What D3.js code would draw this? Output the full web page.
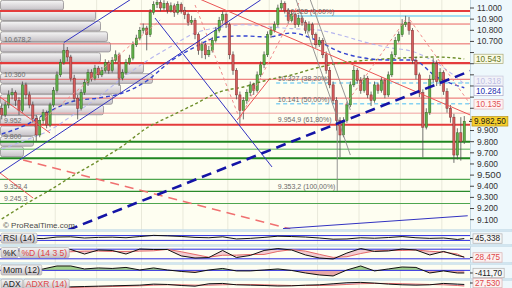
<!DOCTYPE html>
<html>
<head>
<meta charset="utf-8">
<script src="https://cdn.jsdelivr.net/npm/d3@7/dist/d3.min.js"></script>
<style>
  html, body { margin: 0; padding: 0; background: #ffffff; }
  svg { display: block; font-family: "Liberation Sans", Arial, sans-serif; }
</style>
</head>
<body>
<div class="chart"></div>
<script>
// DATA (prices in index points, [open, high, low, close])
const candles = [
  [10100,10140,10000,10040], [10040,10160,10020,10130], [10130,10260,10100,10220], [10220,10280,10180,10240], [10240,10260,10120,10170],
  [10170,10200,10040,10080], [10080,10340,10060,10310], [10310,10330,10180,10220], [10220,10250,10100,10130], [10130,10160,9970,10010],
  [10010,10040,9800,9860], [9860,10020,9840,9990], [9990,10090,9960,10060], [10060,10080,9920,9950], [9950,10150,9930,10130],
  [10130,10290,10110,10260], [10260,10430,10240,10400], [10400,10540,10380,10510], [10510,10680,10490,10620], [10620,10650,10520,10560],
  [10560,10580,10340,10370], [10370,10400,10160,10190], [10190,10220,10000,10100], [10100,10270,10080,10240], [10240,10360,10220,10330],
  [10330,10450,10300,10420], [10420,10450,10340,10370], [10370,10490,10350,10460], [10460,10480,10370,10400], [10400,10470,10380,10440],
  [10440,10540,10420,10510], [10510,10530,10410,10440], [10440,10560,10420,10530], [10530,10620,10510,10580], [10580,10600,10300,10370],
  [10370,10450,10350,10420], [10420,10540,10400,10510], [10510,10580,10490,10550], [10550,10700,10530,10670], [10670,10760,10650,10730],
  [10730,10830,10710,10800], [10800,10860,10770,10820], [10820,10840,10620,10760], [10760,10990,10740,10960], [10960,11060,10940,11030],
  [11030,11080,11000,11050], [11050,11070,10970,11000], [11000,11070,10980,11040], [11040,11060,10950,10980], [10980,11050,10960,11020],
  [11020,11040,10920,10960], [10960,11060,10940,11030], [11030,11050,10950,10980], [10980,11010,10900,10940], [10940,10960,10840,10870],
  [10870,10930,10850,10890], [10890,10910,10720,10760], [10760,10780,10580,10620], [10620,10700,10550,10670], [10670,10690,10540,10580],
  [10580,10660,10560,10620], [10620,10740,10600,10710], [10710,10830,10690,10800], [10800,10920,10780,10890], [10890,10970,10860,10940],
  [10940,10960,10820,10850], [10850,10870,10540,10580], [10580,10610,10400,10440], [10440,10460,10180,10220], [10220,10250,9960,10080],
  [10080,10200,10000,10170], [10170,10270,10140,10240], [10240,10340,10210,10310], [10310,10330,10220,10260], [10260,10430,10240,10400],
  [10400,10520,10380,10490], [10490,10610,10460,10580], [10580,10790,10560,10760], [10760,10830,10730,10800], [10800,10880,10780,10850],
  [10850,11030,10830,11000], [11000,11070,10980,11040], [11040,11060,10950,10980], [10980,11000,10860,10890], [10890,10970,10870,10940],
  [10940,10960,10820,10850], [10850,10940,10830,10910], [10910,10930,10840,10870], [10870,10890,10770,10800], [10800,10880,10780,10850],
  [10850,10870,10730,10760], [10760,10780,10640,10670], [10670,10740,10650,10710], [10710,10730,10550,10580], [10580,10610,10410,10440],
  [10440,10470,10280,10310], [10310,10340,10140,10170], [10170,10200,9900,9990], [9990,10020,9660,9860], [9860,10020,9840,9990],
  [9990,10160,9970,10130], [10130,10340,10110,10310], [10310,10480,10290,10440], [10440,10460,10320,10350], [10350,10380,10230,10260],
  [10260,10400,10240,10370], [10370,10390,10190,10220], [10220,10250,10120,10170], [10170,10340,10150,10310], [10310,10330,10230,10260],
  [10260,10380,10240,10350], [10350,10370,10190,10220], [10220,10430,10200,10400], [10400,10610,10380,10580], [10580,10740,10560,10710],
  [10710,10790,10690,10760], [10760,10900,10740,10850], [10850,10930,10830,10870], [10870,10920,10760,10800], [10800,10820,10500,10530],
  [10530,10560,10360,10400], [10400,10420,10200,10240], [10240,10270,9660,9930], [9930,10100,9910,10060], [10060,10400,10040,10360],
  [10360,10550,10330,10500], [10500,10530,10300,10340], [10340,10460,10300,10420], [10420,10440,10220,10250], [10250,10280,10060,10100],
  [10100,10130,9970,10020], [10020,10050,9610,9680], [9680,9920,9640,9880], [9880,10020,9630,9800], [9800,10030,9780,9982.5]
];

const priceTicks = d3.range(9100, 11001, 100);
const gridIndex = [16, 28, 41, 53, 66, 78, 92, 104, 116, 128];

// volume by price (bin low, volume)
const profileLow = [10978, 10884, 10790, 10696, 10602, 10508, 10414, 10320, 10226, 10132, 10038, 9944, 9850, 9756, 9662];
const profileVolume = [630, 950, 1000, 1070, 1100, 1000, 1430, 1520, 1200, 1120, 1030, 370, 350, 330, 230];
const profileStep = 94;

// horizontal levels
const levels = [10973, 10856, 10678.2, 10505, 10360, 10191, 10056, 9952, 9800, 9732, 9651, 9462, 9353.4, 9245.3];
const levelKind = ["redThick", "red", "red", "redThick", "red", "red", "redLight", "redThick",
                   "greenThick", "greenLight", "greenThick", "green", "greenDark", "green"];
const levelFrom = [-0.5, 40, -0.5, -0.5, -0.5, -0.5, -0.5, -0.5, -0.5, -0.5, -0.5, -0.5, -0.5, -0.5];
const labeledLevels = [10678.2, 10360, 9952, 9800, 9353.4, 9245.3];

// fibonacci retracement
const fibHigh = 10928.3, fibLow = 9353.2;
const fibRatios = [0, 0.382, 0.5, 0.618, 1];
const fibPct = ["0,00%", "38,20%", "50,00%", "61,80%", "100,00%"];

// moving averages
const maIndex = [0, 7, 14, 21, 28, 35, 42, 49, 56, 63, 70, 77, 84, 91, 98, 105, 112, 119, 126, 134];
const maBlue = [9869, 9950, 10075, 10165, 10192, 10237, 10345, 10524, 10650, 10740, 10749, 10740, 10776, 10713, 10605, 10551, 10533, 10533, 10381, 10284];
const maOlive = [9106, 9241, 9366, 9501, 9627, 9761, 9923, 10031, 10138, 10246, 10291, 10354, 10399, 10461, 10506, 10529, 10544, 10556, 10560, 10543];
const maLavender = [9734, 9815, 9905, 10048, 10201, 10372, 10524, 10654, 10776, 10825, 10850, 10832, 10815, 10805, 10758, 10695, 10645, 10610, 10506, 10318];

// drawn trend lines [index1, price1, index2, price2]
const trendBlue = [[-0.5, 9519, 75, 11072], [18, 10690, 37.5, 11080], [44.4, 10910, 78.3, 9573], [81.5, 9020, 135, 9135]];
const trendBlueDash = [[19.2, 9007, 135.7, 10434]];
const trendRed = [[54.6, 11117, 135.7, 10040], [-0.5, 10201, 14, 9878], [-0.5, 9519, 9.1, 9294], [68.2, 9995, 77.8, 10372]];
const trendSalmon = [[6.2, 9636, 83.6, 9016]];
const trendGray = [[85.3, 11072, 101, 9680], [89.4, 11072, 101, 10084], [97.2, 10174, 97.2, 9357]];
const trendPink = [[12.5, 10013, 45.9, 10892], [56, 11027, 68.5, 10040], [69.1, 10013, 86.5, 11072], [99.5, 10129, 116.9, 10892], [118.3, 10892, 135.7, 10138]];

// indicators
const subIndex = [0, 4, 8, 12, 16, 20, 24, 28, 32, 36, 40, 44, 48, 52, 56, 60, 64, 68, 72, 76, 80, 84, 88, 92, 96, 100, 104, 108, 112, 116, 120, 124, 128, 132, 134];
const rsi = [50, 55, 48, 45, 58, 60, 50, 55, 57, 52, 62, 72, 68, 63, 55, 52, 60, 42, 47, 55, 65, 62, 58, 50, 40, 42, 52, 48, 54, 62, 52, 47, 50, 38, 45.338];
const stochK = [62, 75, 56, 38, 75, 78, 50, 75, 72, 50, 81, 78, 78, 38, 25, 28, 72, 28, 41, 72, 84, 75, 44, 25, 19, 56, 84, 66, 69, 81, 75, 44, 66, 41, 31];
const stochD = [60, 68, 64, 56, 56, 64, 68, 68, 66, 66, 68, 70, 79, 64, 47, 30, 42, 43, 47, 47, 66, 77, 68, 48, 29, 33, 53, 69, 73, 72, 75, 67, 62, 50, 28.475];
const mom = [60, -90, -250, 220, 690, 690, 220, 380, 300, 460, 60, 380, 60, -170, -330, 60, 300, -90, -90, 60, 220, -15, -410, -720, -880, 60, 690, -90, 220, 530, 460, -410, -90, -410, -411.7];
const adx = [22, 21, 20, 21, 24, 25, 26, 27, 28, 29, 30, 33, 32, 29, 27, 34, 35, 31, 30, 29, 27.5, 28, 30, 31, 34, 37, 38, 36, 33, 31, 30, 31, 35, 33, 32];
const adxr = [23, 22, 21, 21, 22, 23, 24, 25, 26, 27, 28, 30, 31, 31, 30, 30, 31, 32, 32, 31, 30, 29, 29, 29, 30, 32, 34, 35, 35, 34, 33, 32, 31, 29, 27.53];

// last values shown on the price axis
const lastValues = [10543, 10318, 10284, 10135, 9982.5];


// Setup
const W = 512, H = 288, plotW = 470, mainH = 229.5;
const locale = d3.formatLocale({ decimal: ",", thousands: ".", grouping: [3], currency: ["", ""], minus: "-" });
const fInt = locale.format(",.0f");
const x = d3.scaleLinear().domain([-0.5, candles.length - 0.5]).range([0, 466]);
const y = d3.scaleLinear().domain([9000, 11000]).range([230.8, 8]);
const bodyW = (x(1) - x(0)) * 0.64;

const levelStyle = {
  redThick: { c: "#e43c3c", w: 2.2 }, red: { c: "#e96464", w: 1 }, redLight: { c: "#f0a0a0", w: 1 },
  greenThick: { c: "#1f861f", w: 2 }, greenLight: { c: "#8cc88c", w: 1.4 },
  green: { c: "#4ea64e", w: 1.1 }, greenDark: { c: "#2a8a2a", w: 1.3 }
};
const markStyle = [
  { fill: "#fafae4", stroke: "#a8a878", text: "#66761e" },
  { fill: "#f2f2f8", stroke: "#c8c8dc", text: "#c0c0e4" },
  { fill: "#ffffff", stroke: "#a8a8c8", text: "#2030b0" },
  { fill: "#fff2f2", stroke: "#e4b4b4", text: "#e05454" },
  { fill: "#f6cf2c", stroke: "#b8921a", text: "#1a1a1a" }
];

const svg = d3.select(".chart").append("svg").attr("width", W).attr("height", H);
const defs = svg.append("defs");
const grad = defs.append("linearGradient").attr("id", "boxGrad").attr("x1", 0).attr("x2", 0).attr("y1", 0).attr("y2", 1);
grad.append("stop").attr("offset", "0%").attr("stop-color", "#f6f6f6");
grad.append("stop").attr("offset", "100%").attr("stop-color", "#c6c1c6");
const addClip = (id, y0, y1) => defs.append("clipPath").attr("id", id)
  .append("rect").attr("x", 0).attr("y", y0).attr("width", plotW).attr("height", y1 - y0);
addClip("mainClip", 0, mainH);

// Background
svg.append("rect").attr("width", W).attr("height", H).attr("fill", "#fefef1");
svg.append("rect").attr("x", plotW).attr("width", W - plotW).attr("height", H).attr("fill", "#eef8fc");
svg.append("line").attr("x1", plotW + 0.5).attr("x2", plotW + 0.5).attr("y1", 0).attr("y2", H)
  .attr("stroke", "#c4d8e2");

svg.append("g").selectAll("line").data(gridIndex).join("line")
  .attr("x1", d => x(d - 0.5)).attr("x2", d => x(d - 0.5)).attr("y1", 0).attr("y2", H)
  .attr("stroke", "#e9e9da").attr("stroke-width", 1);

const main = svg.append("g").attr("clip-path", "url(#mainClip)");

// Volume profile
const vx = d3.scaleLinear().domain([0, d3.max(profileVolume)]).range([0, 152]);
main.append("g").selectAll("rect").data(profileLow).join("rect")
  .attr("x", 0.5)
  .attr("y", d => y(d + profileStep) + 0.4)
  .attr("width", (d, i) => vx(profileVolume[i]))
  .attr("height", d => y(d) - y(d + profileStep) - 0.8)
  .attr("rx", 2)
  .attr("fill", "url(#boxGrad)").attr("stroke", "#928e92").attr("stroke-width", 0.8);

// Horizontal levels
main.append("g").selectAll("line").data(levels).join("line")
  .attr("x1", (d, i) => x(levelFrom[i])).attr("x2", plotW)
  .attr("y1", d => y(d)).attr("y2", d => y(d))
  .attr("stroke", (d, i) => levelStyle[levelKind[i]].c)
  .attr("stroke-width", (d, i) => levelStyle[levelKind[i]].w);

main.append("g").selectAll("text").data(labeledLevels).join("text")
  .attr("x", 4).attr("y", d => y(d) - 2.2)
  .attr("font-size", 7).attr("fill", "#6e6e6e")
  .text(d => locale.format(Number.isInteger(d) ? ",.0f" : ",.1f")(d));

// Fibonacci lines
const fibValues = fibRatios.map(r => fibHigh - r * (fibHigh - fibLow));
main.append("g").selectAll("line").data(fibValues.slice(0, 3)).join("line")
  .attr("x1", (d, i) => x(i === 0 ? 82 : 79.5)).attr("x2", plotW)
  .attr("y1", d => y(d)).attr("y2", d => y(d))
  .attr("stroke", "#86d2f2").attr("stroke-width", 1.5)
  .attr("stroke-dasharray", (d, i) => i === 0 ? null : "4,3");

// Moving averages
const maLine = d3.line().x((d, i) => x(maIndex[i])).y(d => y(d)).curve(d3.curveMonotoneX);
const addMa = (values, color, width, dash) => main.append("path")
  .attr("d", maLine(values)).attr("fill", "none")
  .attr("stroke", color).attr("stroke-width", width).attr("stroke-dasharray", dash);
addMa(maLavender, "#b6b6ee", 1.1, "4,3");
addMa(maOlive, "#6f8f2c", 1.4, "3,2.5");
addMa(maBlue, "#3444d0", 1.4, "4,3");

// Candles
const cg = main.append("g");
cg.selectAll("line").data(candles).join("line")
  .attr("x1", (d, i) => x(i)).attr("x2", (d, i) => x(i))
  .attr("y1", d => y(d[1])).attr("y2", d => y(d[2]))
  .attr("stroke", "#4c4c4c").attr("stroke-width", 0.8);
cg.selectAll("rect").data(candles).join("rect")
  .attr("x", (d, i) => x(i) - bodyW / 2).attr("width", bodyW)
  .attr("y", d => y(Math.max(d[0], d[3])))
  .attr("height", d => Math.max(0.8, Math.abs(y(d[0]) - y(d[3]))))
  .attr("fill", d => d[3] >= d[0] ? "#62b04a" : "#d65c5c")
  .attr("stroke", d => d[3] >= d[0] ? "#2e6a20" : "#7c3030").attr("stroke-width", 0.5);

// Trend lines
const addSegments = (segs, color, width, dash) => main.append("g").selectAll("line").data(segs).join("line")
  .attr("x1", d => x(d[0])).attr("y1", d => y(d[1]))
  .attr("x2", d => x(d[2])).attr("y2", d => y(d[3]))
  .attr("stroke", color).attr("stroke-width", width).attr("stroke-dasharray", dash);
addSegments(trendPink, "#f08c8c", 1, "3,3");
addSegments(trendGray, "#8a8a8a", 0.9, null);
addSegments(trendSalmon, "#f07070", 1.4, "9,6");
addSegments(trendRed, "#ea5454", 1, null);
addSegments(trendBlue, "#3232c0", 1, null);
addSegments(trendBlueDash, "#1414a6", 2.6, "10,6");

// Fibonacci labels
const fFib = locale.format(",.5r");
main.append("g").selectAll("text").data(fibValues).join("text")
  .attr("x", (d, i) => x(i === 0 ? 82.5 : 80)).attr("y", d => y(d) - 2.2)
  .attr("font-size", 7).attr("fill", "#6a6a6a")
  .text((d, i) => `${fFib(d)} (${fibPct[i]})`);

svg.append("text").attr("x", 3).attr("y", 228).attr("font-size", 8).attr("fill", "#4a4a4a")
  .text("\u00a9 ProRealTime.com");

// Price axis (labels hidden where a value box sits on them)
const boxGap = 10.2;
const boxes = lastValues.map((v, i) => ({ v, y: y(v), s: markStyle[i] })).sort((a, b) => a.y - b.y);
for (let k = 1; k < boxes.length; k++) {
  const gap = boxes[k].y - boxes[k - 1].y;
  if (gap < boxGap) { boxes[k - 1].y -= (boxGap - gap) / 2; boxes[k].y += (boxGap - gap) / 2; }
}
const visibleTicks = priceTicks.filter(t => boxes.every(b => Math.abs(y(t) - b.y) > 6.4));

const axisG = svg.append("g");
axisG.selectAll("line").data(priceTicks).join("line")
  .attr("x1", plotW).attr("x2", plotW + 4).attr("y1", d => y(d)).attr("y2", d => y(d))
  .attr("stroke", "#444");
axisG.selectAll("text").data(visibleTicks).join("text")
  .attr("x", plotW + 7).attr("y", d => y(d)).attr("dy", "0.35em")
  .attr("font-size", d => d % 1000 === 500 ? 9.6 : 8.4).attr("fill", "#333")
  .text(d => fInt(d));

// Value boxes on the price axis
const addValueBox = (g, text, cy, s, x0) => {
  const t = g.append("text").attr("x", x0 + 2).attr("y", cy).attr("dy", "0.35em")
    .attr("font-size", 8.2).attr("fill", s.text).text(text);
  const w = t.node().getComputedTextLength() + 4;
  g.insert("rect", "text").attr("x", x0).attr("y", cy - 4.7).attr("width", w).attr("height", 9.4)
    .attr("fill", s.fill).attr("stroke", s.stroke).attr("stroke-width", 0.7);
};
boxes.forEach(b => {
  const g = svg.append("g");
  const label = Number.isInteger(b.v) ? fInt(b.v) : locale.format(",.2f")(b.v);
  if (b.s.fill === "#f6cf2c") {
    g.append("line").attr("x1", plotW - 1).attr("x2", plotW + 2).attr("y1", b.y).attr("y2", b.y).attr("stroke", "#222");
  }
  addValueBox(g, label, b.y, b.s, b.s.fill === "#f6cf2c" ? plotW + 2 : plotW + 4);
});

// INDICATOR PANES
const sx = i => x(subIndex[i]);
const paneSep = [229.5, 244.5, 262.5, 278.5];
svg.append("g").selectAll("rect").data(paneSep).join("rect")
  .attr("x", 0).attr("width", W).attr("y", d => d).attr("height", 2)
  .attr("fill", "#d2e6f0").attr("stroke", "#bcd4e0").attr("stroke-width", 0.4);

const addPane = (id, y0, y1) => {
  addClip(id, y0, y1);
  return svg.append("g").attr("clip-path", `url(#${id})`);
};
const addLevel = (g, yy) => g.append("line").attr("x1", 0).attr("x2", plotW).attr("y1", yy).attr("y2", yy)
  .attr("stroke", "#2c2ce0").attr("stroke-width", 1);
const path = (g, vals, sy, color, width) => g.append("path")
  .attr("d", d3.line().x((d, i) => sx(i)).y(d => sy(d))(vals))
  .attr("fill", "none").attr("stroke", color).attr("stroke-width", width);

// RSI
const yRsi = d3.scaleLinear().domain([0, 100]).range([244, 232]);
const rsiG = addPane("rsiClip", 232, 244.5);
addLevel(rsiG, yRsi(70)); addLevel(rsiG, yRsi(30));
path(rsiG, rsi, yRsi, "#111", 1);

// Stochastic
const ySto = d3.scaleLinear().domain([0, 100]).range([262, 246]);
const stoG = addPane("stoClip", 246.5, 262.5);
stoG.append("path")
  .attr("d", d3.area().x((d, i) => sx(i)).y0((d, i) => ySto(stochD[i])).y1(d => ySto(d))(stochK))
  .attr("fill", "#eeb8c4").attr("opacity", 0.7);
addLevel(stoG, ySto(80)); addLevel(stoG, ySto(20));
path(stoG, stochD, ySto, "#e46a6a", 1);
path(stoG, stochK, ySto, "#111", 1);

// Momentum
const yMom = d3.scaleLinear().domain([-1200, 1000]).range([278, 264]);
const momG = addPane("momClip", 264.5, 278.5);
addClip("momUp", 0, yMom(0));
addClip("momDown", yMom(0), 300);
const momArea = d3.area().x((d, i) => sx(i)).y0(yMom(0)).y1(d => yMom(d));
momG.append("path").attr("d", momArea(mom)).attr("fill", "#9fcf88").attr("clip-path", "url(#momUp)");
momG.append("path").attr("d", momArea(mom)).attr("fill", "#e6a8a8").attr("clip-path", "url(#momDown)");
addLevel(momG, yMom(0));
path(momG, mom, yMom, "#111", 1);

// ADX / ADXR
const yAdx = d3.scaleLinear().domain([10, 45]).range([292, 280]);
const adxG = addPane("adxClip", 280.5, 288);
adxG.append("path")
  .attr("d", d3.area().x((d, i) => sx(i)).y0((d, i) => yAdx(adxr[i])).y1(d => yAdx(d))(adx))
  .attr("fill", "#c4c4e6").attr("opacity", 0.8);
path(adxG, adxr, yAdx, "#e46a6a", 1);
path(adxG, adx, yAdx, "#111", 1);

// Pane labels
const addTag = (x0, cy, parts) => {
  let cx = x0;
  parts.forEach(p => {
    const g = svg.append("g");
    const t = g.append("text").attr("x", cx + 2).attr("y", cy).attr("dy", "0.35em")
      .attr("font-size", 8.6).attr("fill", p.color).text(p.text);
    const w = t.node().getComputedTextLength() + 4;
    g.insert("rect", "text").attr("x", cx).attr("y", cy - 5).attr("width", w).attr("height", 10).attr("rx", 1.5)
      .attr("fill", "url(#boxGrad)").attr("stroke", "#a8a4a8").attr("stroke-width", 0.6);
    cx += w + 1;
  });
};
addTag(1, 238.2, [{ text: "RSI (14)", color: "#1e1e1e" }]);
addTag(1, 252.5, [{ text: "%K", color: "#1e1e1e" }, { text: "%D (14 3 5)", color: "#e04848" }]);
addTag(1, 270, [{ text: "Mom (12)", color: "#1e1e1e" }]);
addTag(1, 284.2, [{ text: "ADX", color: "#1e1e1e" }, { text: "ADXR (14)", color: "#e04848" }]);

// Indicator values on the right
const valueStyle = [
  { fill: "#f6f6f6", stroke: "#b0b0b0", text: "#222" },
  { fill: "#fbf2f2", stroke: "#d8b0b0", text: "#e04848" },
  { fill: "#f6f6f6", stroke: "#b0b0b0", text: "#222" },
  { fill: "#fbf2f2", stroke: "#d8b0b0", text: "#e04848" }
];
const indicatorLast = [
  [rsi[rsi.length - 1], yRsi, ",.3f"],
  [stochD[stochD.length - 1], ySto, ",.3f"],
  [mom[mom.length - 1], yMom, ",.2f"],
  [adxr[adxr.length - 1], yAdx, ",.3f"]
];
indicatorLast.forEach((d, i) => {
  const g = svg.append("g");
  const cy = Math.min(d[1](d[0]), 283);
  g.append("line").attr("x1", plotW).attr("x2", plotW + 3).attr("y1", cy).attr("y2", cy).attr("stroke", "#333");
  addValueBox(g, locale.format(d[2])(d[0]), cy, valueStyle[i], plotW + 3);
});
</script>
</body>
</html>
